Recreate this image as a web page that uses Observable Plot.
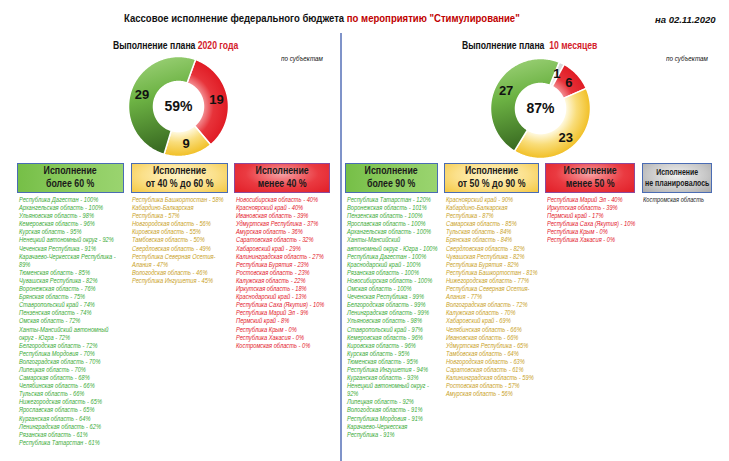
<!DOCTYPE html>
<html><head><meta charset="utf-8">
<script src="https://cdn.jsdelivr.net/npm/d3@7"></script>
<script src="https://cdn.jsdelivr.net/npm/@observablehq/plot@0.6"></script>
<style>
body{margin:0;background:#fff;}
#root{position:relative;width:729px;height:461px;overflow:hidden;font-family:"Liberation Sans",sans-serif;color:#111;}
.abs{position:absolute;white-space:nowrap;transform-origin:0 0;}
.list{position:absolute;font-style:italic;font-size:6.8px;line-height:8.1px;white-space:pre;transform:scaleX(0.84);transform-origin:0 0;}
.box{position:absolute;box-sizing:border-box;border:1px solid #4a6cb4;display:flex;align-items:center;justify-content:center;text-align:center;font-weight:bold;font-size:10px;line-height:12.6px;color:#1a1a1a;white-space:pre;}
.box span{display:inline-block;transform:scaleX(0.88);}
.donut{position:absolute;}
</style></head>
<body><div id="root"></div>
<script>
// ---------- data ----------
const titleMain = "Кассовое исполнение федерального бюджета ";
const titleRed = "по мероприятию \"Стимулирование\"";
const dateLabel = "на 02.11.2020";
const subtitle2020 = ["Выполнение плана ", "2020 года"];
const subtitle10m = ["Выполнение плана  ", "10 месяцев"];
const unitNote = "по субъектам";

const donut2020Categories = ["менее 40 %", "от 40 % до 60 %", "более 60 %"];
const donut2020Values = [19, 9, 29];
const donut2020Total = "59%";
const donut10mCategories = ["не планировалось", "менее 50 %", "от 50 % до 90 %", "более 90 %"];
const donut10mValues = [1, 6, 23, 27];
const donut10mTotal = "87%";

const boxHeader = "Исполнение";
const boxLabels2020 = ["более 60 %", "от 40 % до 60 %", "менее 40 %"];
const boxLabels10m = ["более 90 %", "от 50 % до 90 %", "менее 50 %", "не планировалось"];

const above60Names = ["Республика Дагестан","Архангельская область","Ульяновская область","Кемеровская область","Курская область","Ненецкий автономный округ","Чеченская Республика","Карачаево-Черкесская Республика\n","Тюменская область","Чувашская Республика","Воронежская область","Брянская область","Ставропольский край","Пензенская область","Омская область","Ханты-Мансийский автономный\nокруг - Югра","Белгородская область","Республика Мордовия","Волгоградская область","Липецкая область","Самарская область","Челябинская область","Тульская область","Нижегородская область","Ярославская область","Курганская область","Ленинградская область","Рязанская область","Республика Татарстан"];
const above60Values = [100,100,98,96,95,92,91,89,85,82,76,75,74,74,72,72,72,70,70,70,68,66,66,65,65,64,62,61,61];

const from40to60Names = ["Республика Башкортостан","Кабардино-Балкарская\nРеспублика","Новгородская область","Кировская область","Тамбовская область","Свердловская область","Республика Северная Осетия-\nАлания","Вологодская область","Республика Ингушетия"];
const from40to60Values = [58,57,56,55,50,49,47,46,45];

const below40Names = ["Новосибирская область","Красноярский край","Ивановская область","Удмуртская Республика","Амурская область","Саратовская область","Хабаровский край","Калининградская область","Республика Бурятия","Ростовская область","Калужская область","Иркутская область","Краснодарский край","Республика Саха (Якутия)","Республика Марий Эл","Пермский край","Республика Крым","Республика Хакасия","Костромская область"];
const below40Values = [40,40,39,37,36,32,29,27,23,23,22,18,13,10,9,8,0,0,0];

const above90Names = ["Республика Татарстан","Воронежская область","Пензенская область","Ярославская область","Архангельская область","Ханты-Мансийский\nавтономный округ - Югра","Республика Дагестан","Краснодарский край","Рязанская область","Новосибирская область","Омская область","Чеченская Республика","Белгородская область","Ленинградская область","Ульяновская область","Ставропольский край","Кемеровская область","Кировская область","Курская область","Тюменская область","Республика Ингушетия","Курганская область","Ненецкий автономный округ\n","Липецкая область","Вологодская область","Республика Мордовия","Карачаево-Черкесская\nРеспублика"];
const above90Values = [120,101,100,100,100,100,100,100,100,100,100,99,99,99,98,97,96,96,95,95,94,93,92,92,91,91,91];

const from50to90Names = ["Красноярский край","Кабардино-Балкарская\nРеспублика","Самарская область","Тульская область","Брянская область","Свердловская область","Чувашская Республика","Республика Бурятия","Республика Башкортостан","Нижегородская область","Республика Северная Осетия-\nАлания","Волгоградская область","Калужская область","Хабаровский край","Челябинская область","Ивановская область","Удмуртская Республика","Тамбовская область","Новгородская область","Саратовская область","Калининградская область","Ростовская область","Амурская область"];
const from50to90Values = [90,87,85,84,84,82,82,82,81,77,77,72,70,69,66,66,65,64,63,61,59,57,56];

const below50Names = ["Республика Марий Эл","Иркутская область","Пермский край","Республика Саха (Якутия)","Республика Крым","Республика Хакасия"];
const below50Values = [40,39,17,10,0,0];

const notPlannedNames = ["Костромская область"];

// ---------- styles / layout ----------
const root = document.getElementById("root");
const COL_GREEN = "#3cab37", COL_GOLD = "#c9a126", COL_RED = "#e3202b", COL_DARK = "#1a1a1a";

function div(cls, css, html) {
  const d = document.createElement("div");
  d.className = cls; d.style.cssText = css; d.innerHTML = html; root.appendChild(d); return d;
}

// title
div("abs", "left:124px;top:12px;font-size:11.5px;font-weight:bold;transform:scaleX(0.83);", titleMain + `<span style="color:#c00000">${titleRed}</span>`);
div("abs", "left:655px;top:14px;font-size:9.5px;font-weight:bold;font-style:italic;", dateLabel);
// divider
div("abs", "left:340px;top:33px;width:1.5px;height:430px;background:#7f93c9;", "");
// subtitles
div("abs", "left:113px;top:39px;font-size:10.5px;font-weight:bold;transform:scaleX(0.82);", subtitle2020[0] + `<span style="color:#d3202a">${subtitle2020[1]}</span>`);
div("abs", "left:462px;top:39px;font-size:10.5px;font-weight:bold;transform:scaleX(0.82);", subtitle10m[0].replace(/ /g,"&nbsp;") + `<span style="color:#d3202a">${subtitle10m[1]}</span>`);
div("abs", "left:281px;top:55px;font-size:7px;font-style:italic;transform:scaleX(0.9);", unitNote);
div("abs", "left:666px;top:55px;font-size:7px;font-style:italic;transform:scaleX(0.9);", unitNote);

// donuts
const FILLS = {
  green: [["0%","#a3d57f"],["45%","#6db344"],["100%","#3a6c22"]],
  yellow: [["50%","#fffbe6"],["72%","#f9dd7a"],["100%","#f1bf25"]],
  red: [["50%","#f39296"],["70%","#e7333a"],["100%","#e01b24"]],
  gray: [["50%","#f2f2f2"],["100%","#d6d6d6"]]
};

function donut(id, cats, vals, total, kinds, startDeg, left, top) {
  const size = 120, m = 10, ri = 0.5, ro = 1;
  const sum = d3.sum(vals);
  let a = startDeg * Math.PI / 180;
  const slices = vals.map((v, i) => { const a0 = a; a += v / sum * 2 * Math.PI; return {cat: cats[i], value: v, a0, a1: a, mid: (a0 + a) / 2}; });
  const pts = slices.flatMap(s => {
    const n = Math.max(3, Math.ceil((s.a1 - s.a0) / 0.02)), out = [];
    for (let k = 0; k <= n; k++) { const t = s.a0 + (s.a1 - s.a0) * k / n; out.push({cat: s.cat, x: ro * Math.sin(t), y: ro * Math.cos(t)}); }
    for (let k = n; k >= 0; k--) { const t = s.a0 + (s.a1 - s.a0) * k / n; out.push({cat: s.cat, x: ri * Math.sin(t), y: ri * Math.cos(t)}); }
    return out;
  });
  const svg = Plot.plot({
    width: size, height: size, margin: m,
    x: {domain: [-1, 1], axis: null},
    y: {domain: [-1, 1], axis: null},
    color: {domain: cats, range: kinds.map(k => `url(#${id}-${k})`)},
    style: {background: "transparent", overflow: "visible", fontFamily: "'Liberation Sans', sans-serif"},
    marks: [
      Plot.line(pts, {x: "x", y: "y", z: "cat", fill: "cat", stroke: "white", strokeWidth: 1.5, curve: "linear-closed"}),
      Plot.text(slices, {x: s => 0.77 * Math.sin(s.mid), y: s => 0.77 * Math.cos(s.mid), text: "value", fontSize: 13, fontWeight: "bold", fill: "#111"}),
      Plot.text([total], {frameAnchor: "middle", text: d => d, fontSize: 14, fontWeight: "bold", fill: "#111"})
    ]
  });
  const cx = svg.scale("x").apply(0), cy = svg.scale("y").apply(0), r = svg.scale("x").apply(1) - cx;
  const defs = d3.select(svg).insert("defs", ":first-child");
  for (const k of new Set(kinds)) {
    let g;
    if (k === "green") g = defs.append("linearGradient").attr("id", `${id}-${k}`).attr("x1", 0).attr("y1", 0).attr("x2", 0.2).attr("y2", 1);
    else g = defs.append("radialGradient").attr("id", `${id}-${k}`).attr("gradientUnits", "userSpaceOnUse").attr("cx", cx).attr("cy", cy).attr("r", r);
    for (const [o, c] of FILLS[k]) g.append("stop").attr("offset", o).attr("stop-color", c);
  }
  svg.classList.add("donut");
  svg.style.left = left + "px"; svg.style.top = top + "px";
  root.appendChild(svg);
}
donut("d1", donut2020Categories, donut2020Values, donut2020Total, ["red","yellow","green"], 20, 118, 46);
donut("d2", donut10mCategories, donut10mValues, donut10mTotal, ["gray","red","yellow","green"], 22, 480, 48);

// legend boxes
const BOX_BG = {
  green: "linear-gradient(90deg,#76bf47,#8fcd63 60%,#9ad46f)",
  yellow: "radial-gradient(ellipse at 50% 40%,#fff4c8 0%,#fbe08a 55%,#f4c842 100%)",
  red: "radial-gradient(ellipse at 50% 35%,#f7a3a6 0%,#ea3a41 55%,#e11e27 100%)",
  gray: "radial-gradient(ellipse at 50% 40%,#f0f0f0 0%,#c8c8c8 60%,#a9a9a9 100%)"
};
const boxes2020 = [[17,107,"green"],[131,97,"yellow"],[234,96,"red"]];
const boxes10m = [[345,93,"green"],[444,95,"yellow"],[545,90,"red"],[642,70,"gray"]];
function box(x, w, k, t) {
  const extra = (k === "red" ? "border-color:#8b4a9c;" : "") + (k === "gray" ? "font-size:8.5px;line-height:11.5px;" : "");
  const d = div("box", `left:${x}px;top:163px;width:${w}px;height:30px;background:${BOX_BG[k]};${extra}`, "");
  const s = document.createElement("span"); s.textContent = boxHeader + "\n" + t; d.appendChild(s);
  if (k === "gray") s.style.transform = "scaleX(0.82)";
}
boxLabels2020.forEach((t, i) => box(...boxes2020[i], t));
boxLabels10m.forEach((t, i) => box(...boxes10m[i], t));

// lists
const fmt = (n, v) => n.endsWith("\n") ? `${n.slice(0,-1)} -\n${v}%` : `${n} - ${v}%`;
function list(names, values, x, color) {
  const txt = names.map((n, i) => values ? fmt(n, values[i]) : n).join("\n");
  const d = div("list", `left:${x}px;top:196px;color:${color};`, "");
  d.textContent = txt;
}
list(above60Names, above60Values, 19, COL_GREEN);
list(from40to60Names, from40to60Values, 132, COL_GOLD);
list(below40Names, below40Values, 236, COL_RED);
list(above90Names, above90Values, 347, COL_GREEN);
list(from50to90Names, from50to90Values, 446, COL_GOLD);
list(below50Names, below50Values, 547, COL_RED);
list(notPlannedNames, null, 643, COL_DARK);
</script></body></html>
